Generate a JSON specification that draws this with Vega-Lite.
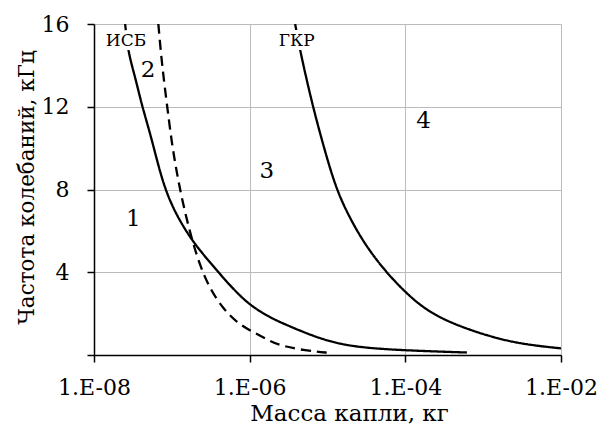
{
  "$schema": "https://vega.github.io/schema/vega-lite/v6.json",
  "autosize": "none",
  "width": 467,
  "height": 331,
  "padding": {"left": 94, "top": 24, "right": 40, "bottom": 73},
  "background": "white",
  "config": {
    "view": {"stroke": null},
    "font": "DejaVu Serif"
  },
  "datasets": {
    "curves": [
      {"curve": "1", "mass": 2.51e-8, "freq": 16},
      {"curve": "1", "mass": 2.76e-8, "freq": 14.59},
      {"curve": "1", "mass": 3.37e-8, "freq": 13.46},
      {"curve": "1", "mass": 4.1e-8, "freq": 12.1},
      {"curve": "1", "mass": 5.25e-8, "freq": 10.73},
      {"curve": "1", "mass": 6.4e-8, "freq": 9.45},
      {"curve": "1", "mass": 8.18e-8, "freq": 8.0},
      {"curve": "1", "mass": 1.159e-7, "freq": 6.71},
      {"curve": "1", "mass": 1.892e-7, "freq": 5.43},
      {"curve": "1", "mass": 3.105e-7, "freq": 4.47},
      {"curve": "1", "mass": 5.61e-7, "freq": 3.34},
      {"curve": "1", "mass": 1.014e-6, "freq": 2.38},
      {"curve": "1", "mass": 1.837e-6, "freq": 1.82},
      {"curve": "1", "mass": 2.47e-6, "freq": 1.58},
      {"curve": "1", "mass": 8.91e-6, "freq": 0.69},
      {"curve": "1", "mass": 2.51e-5, "freq": 0.36},
      {"curve": "1", "mass": 1.0e-4, "freq": 0.22},
      {"curve": "1", "mass": 6.17e-4, "freq": 0.12},
      {"curve": "2", "mass": 6.71e-8, "freq": 16},
      {"curve": "2", "mass": 7.43e-8, "freq": 14.11},
      {"curve": "2", "mass": 8.61e-8, "freq": 12.18},
      {"curve": "2", "mass": 9.98e-8, "freq": 10.25},
      {"curve": "2", "mass": 1.159e-7, "freq": 8.8},
      {"curve": "2", "mass": 1.409e-7, "freq": 7.2},
      {"curve": "2", "mass": 1.807e-7, "freq": 5.59},
      {"curve": "2", "mass": 2.307e-7, "freq": 4.3},
      {"curve": "2", "mass": 3.105e-7, "freq": 3.18},
      {"curve": "2", "mass": 4.6e-7, "freq": 2.22},
      {"curve": "2", "mass": 6.84e-7, "freq": 1.58},
      {"curve": "2", "mass": 1.014e-6, "freq": 1.17},
      {"curve": "2", "mass": 1.663e-6, "freq": 0.77},
      {"curve": "2", "mass": 2.24e-6, "freq": 0.5},
      {"curve": "2", "mass": 4.9e-6, "freq": 0.22},
      {"curve": "2", "mass": 1.07e-5, "freq": 0.1},
      {"curve": "4", "mass": 3.84e-6, "freq": 16},
      {"curve": "4", "mass": 4.47e-6, "freq": 14.66},
      {"curve": "4", "mass": 6.31e-6, "freq": 12.18},
      {"curve": "4", "mass": 8.89e-6, "freq": 10.09},
      {"curve": "4", "mass": 1.259e-5, "freq": 8.16},
      {"curve": "4", "mass": 1.778e-5, "freq": 6.88},
      {"curve": "4", "mass": 2.91e-5, "freq": 5.43},
      {"curve": "4", "mass": 5.26e-5, "freq": 4.14},
      {"curve": "4", "mass": 1.0e-4, "freq": 3.02},
      {"curve": "4", "mass": 1.901e-4, "freq": 2.13},
      {"curve": "4", "mass": 4.18e-4, "freq": 1.49},
      {"curve": "4", "mass": 1.125e-3, "freq": 0.93},
      {"curve": "4", "mass": 3.01e-3, "freq": 0.53},
      {"curve": "4", "mass": 1.0e-2, "freq": 0.32}
    ],
    "labels": [
      {"label": "ИСБ", "kind": "name", "mass": 2.576e-8, "freq": 15.16},
      {"label": "ГКР", "kind": "name", "mass": 4.027e-6, "freq": 15.16},
      {"label": "1", "kind": "num", "mass": 3.2e-8, "freq": 6.55},
      {"label": "2", "kind": "num", "mass": 4.94e-8, "freq": 13.79},
      {"label": "3", "kind": "num", "mass": 1.66e-6, "freq": 8.88},
      {"label": "4", "kind": "num", "mass": 1.71e-4, "freq": 11.29}
    ]
  },
  "encoding": {
    "x": {
      "field": "mass",
      "type": "quantitative",
      "scale": {"type": "log", "domain": [1e-8, 1e-2], "nice": false},
      "axis": {
        "values": [1e-8, 1e-6, 1e-4, 1e-2],
        "labelExpr": "'1.E-0' + round(-log(datum.value) / LN10)",
        "labelFont": "DejaVu Serif",
        "labelFontSize": 22,
        "labelColor": "black",
        "labelFlush": false,
        "labelPadding": 15,
        "tickSize": 7,
        "tickColor": "black",
        "tickWidth": 1.5,
        "domainColor": "black",
        "domainWidth": 1.5,
        "gridColor": "#bbbbbb",
        "gridWidth": 1,
        "title": "Масса капли, кг",
        "titleFont": "DejaVu Serif",
        "titleFontSize": 23,
        "titleFontWeight": "normal",
        "titleColor": "black",
        "titleAlign": "center",
        "titleBaseline": "alphabetic",
        "titleX": 255,
        "titleY": 65
      }
    },
    "y": {
      "field": "freq",
      "type": "quantitative",
      "scale": {"domain": [0, 16], "nice": false},
      "axis": {
        "values": [0, 4, 8, 12, 16],
        "labelExpr": "datum.value == 0 ? '' : datum.label",
        "labelFont": "DejaVu Serif",
        "labelFontSize": 22,
        "labelColor": "black",
        "labelFlush": false,
        "labelPadding": 18,
        "tickSize": 7,
        "tickColor": "black",
        "tickWidth": 1.5,
        "domainColor": "black",
        "domainWidth": 1.5,
        "gridColor": "#bbbbbb",
        "gridWidth": 1,
        "title": "Частота колебаний, кГц",
        "titleFont": "DejaVu Serif",
        "titleFontSize": 21.5,
        "titleFontWeight": "normal",
        "titleColor": "black",
        "titleAlign": "center",
        "titleBaseline": "alphabetic",
        "titleAngle": 270,
        "titleX": -61,
        "titleY": 163
      }
    }
  },
  "layer": [
    {
      "data": {"name": "curves"},
      "mark": {"type": "line", "interpolate": "basis", "strokeWidth": 2.3, "color": "black", "clip": true},
      "encoding": {
        "detail": {"field": "curve", "type": "nominal"},
        "strokeDash": {
          "field": "curve",
          "type": "nominal",
          "scale": {"domain": ["1", "2", "4"], "range": [[1, 0], [10, 6], [1, 0]]},
          "legend": null
        }
      }
    },
    {
      "data": {"name": "labels"},
      "transform": [{"filter": "datum.kind == 'name'"}],
      "mark": {"type": "text", "font": "DejaVu Serif", "fontSize": 17, "stroke": "white", "strokeWidth": 8, "fill": "white", "align": "center", "baseline": "middle"},
      "encoding": {"text": {"field": "label"}}
    },
    {
      "data": {"name": "labels"},
      "transform": [{"filter": "datum.kind == 'name'"}],
      "mark": {"type": "text", "font": "DejaVu Serif", "fontSize": 17, "color": "black", "align": "center", "baseline": "middle"},
      "encoding": {"text": {"field": "label"}}
    },
    {
      "data": {"name": "labels"},
      "transform": [{"filter": "datum.kind == 'num'"}],
      "mark": {"type": "text", "font": "DejaVu Serif", "fontSize": 23, "color": "black", "align": "center", "baseline": "middle"},
      "encoding": {"text": {"field": "label"}}
    }
  ]
}
